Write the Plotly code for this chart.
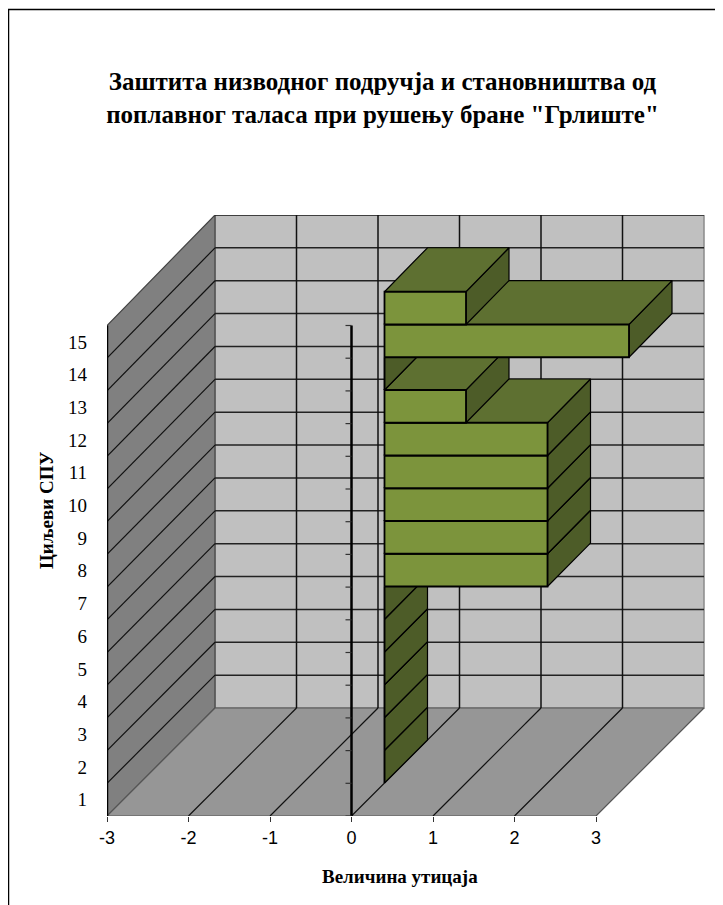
import plotly.graph_objects as go

categories = list(range(1, 16))
values = [0, 0, 0, 0, 0, 0, 2, 2, 2, 2, 2, 1, 0, 3, 1]
x_ticks = [-3, -2, -1, 0, 1, 2, 3]
title_lines = ['Заштита низводног подручја и становништва од', 'поплавног таласа при рушењу бране "Грлиште"']
x_title = "Величина утицаја"
y_title = "Циљеви СПУ"

WALL, SIDEWALL, FLOOR = "#C0C0C0", "#808080", "#969696"
FRONT, TOP, SIDE = "#7C943C", "#5E7031", "#4D5C28"
SERIF, SANS = "Liberation Serif", "Liberation Sans"

# The page puts the figure 8 px in from the window's corner
OFF = 8
W, H = 723, 905 - OFF
L, R, T, B = 107 - OFF, 705 - OFF, 215 - OFF, 816 - OFF
PX_X = (596 - 107) / 6
PX_Y = 32.7
DX = 108 / PX_X
DY = 108 / PX_Y
BACK_SCALE = 493 / 490.5 - 1
D0, D1 = 33 / 108, 76 / 108
N = len(categories)
XMIN, XMAX = x_ticks[0], x_ticks[-1]


def proj(v, r, d=0.0):
    return v + d * DX, r + d * DY + d * r * BACK_SCALE


def px(x):
    return (x - OFF - L) / (R - L)


def py(y):
    return (B - (y - OFF)) / (B - T)


fig = go.Figure()


def poly(points, fill, line="black", width=1.2):
    xs, ys = zip(*[proj(*p) for p in points + points[:1]])
    fig.add_trace(go.Scatter(x=xs, y=ys, mode="lines", fill="toself", fillcolor=fill,
                             line=dict(color=line, width=width), hoverinfo="skip",
                             showlegend=False, cliponaxis=False))


def lines(segments, color="#111111", width=1.2):
    xs, ys = [], []
    for a, b in segments:
        xa, ya = proj(*a)
        xb, yb = proj(*b)
        xs += [xa, xb, None]
        ys += [ya, yb, None]
    fig.add_trace(go.Scatter(x=xs, y=ys, mode="lines", line=dict(color=color, width=width),
                             hoverinfo="skip", showlegend=False, cliponaxis=False))


# Walls and floor
poly([(XMIN, 0, 1), (XMAX, 0, 1), (XMAX, N, 1), (XMIN, N, 1)], WALL, "#8a8a8a", 1.5)
poly([(XMIN, 0, 0), (XMIN, 0, 1), (XMIN, N, 1), (XMIN, N, 0)], SIDEWALL, "#444444", 1.2)
poly([(XMIN, 0, 0), (XMAX, 0, 0), (XMAX, 0, 1), (XMIN, 0, 1)], FLOOR, "#555555", 1.2)

# Gridlines
lines([((XMIN, r, 1), (XMAX, r, 1)) for r in range(1, N + 1)], "#222222", 1.5)
lines([((XMIN, r, 0), (XMIN, r, 1)) for r in range(1, N)], "#111111", 1.2)
lines([((v, 0, 1), (v, N, 1)) for v in x_ticks[1:-1]], "#111111", 1.5)
lines([((v, 0, 0), (v, 0, 1)) for v in x_ticks[1:-1]], "#111111", 1.2)

# Value axis at zero, and the front-left edge
lines([((0, 0, 0), (0, N, 0))], "black", 2.5)
lines([((-6 / PX_X, r, 0), (0, r, 0)) for r in range(0, N + 1)], "#333333", 1.2)
lines([((XMIN, 0, 0), (XMIN, N, 0))], "black", 2.5)

# Bars, lowest row first
for cat, v in zip(categories, values):
    r0, r1 = cat - 1, cat
    poly([(v, r0, D0), (v, r0, D1), (v, r1, D1), (v, r1, D0)], SIDE)
    poly([(0, r1, D0), (v, r1, D0), (v, r1, D1), (0, r1, D1)], TOP)
    poly([(0, r0, D0), (v, r0, D0), (v, r1, D0), (0, r1, D0)], FRONT, "black", 1.8)

fig.update_layout(
    width=W, height=H, autosize=False,
    paper_bgcolor="white", plot_bgcolor="white",
    margin=dict(l=L, r=W - R, t=T, b=H - B, autoexpand=False),
    showlegend=False,
    title=dict(text="<br>".join(f"<b>{t}</b>" for t in title_lines),
               x=(382.5 - OFF) / W, xanchor="center", y=1 - (90 - OFF) / H, yanchor="middle",
               font=dict(family=SERIF, size=25, color="black")),
    xaxis=dict(range=[XMIN, XMIN + (R - L) / PX_X], tickmode="array", tickvals=x_ticks,
               ticktext=[str(v) for v in x_ticks], ticks="outside", ticklen=5, tickcolor="#333333",
               showgrid=False, zeroline=False, showline=False,
               tickfont=dict(family=SANS, size=18, color="black")),
    yaxis=dict(range=[0, (B - T) / PX_Y], tickmode="array",
               tickvals=[c - 0.5 for c in categories], ticktext=[str(c) for c in categories],
               ticks="", showgrid=False, zeroline=False, showline=False, ticklabelstandoff=19,
               tickfont=dict(family=SERIF, size=19, color="black")),
    annotations=[
        dict(text=f"<b>{x_title}</b>", xref="paper", yref="paper", x=px(400), y=py(876),
             showarrow=False, xanchor="center", yanchor="middle",
             font=dict(family=SERIF, size=19, color="black")),
        dict(text=f"<b>{y_title}</b>", xref="paper", yref="paper", x=px(46), y=py(511),
             showarrow=False, textangle=-90, xanchor="center", yanchor="middle",
             font=dict(family=SERIF, size=19, color="black")),
    ],
    shapes=[
        dict(type="line", xref="paper", yref="paper", layer="above",
             x0=px(8.5), x1=px(8.5), y0=py(9), y1=py(905), line=dict(color="black", width=1.5)),
        dict(type="line", xref="paper", yref="paper", layer="above",
             x0=px(8), x1=px(731), y0=py(9.5), y1=py(9.5), line=dict(color="black", width=1.5)),
    ],
)
fig.write_html("out.html")
